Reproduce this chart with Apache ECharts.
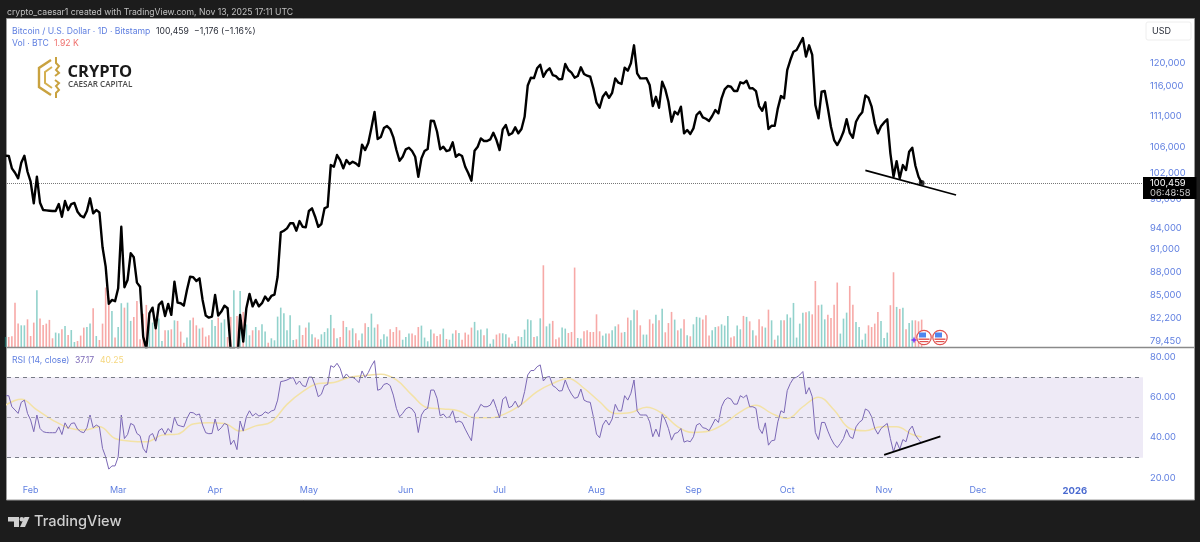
<!DOCTYPE html>
<html>
<head>
<meta charset="utf-8">
<title>BTC/USD</title>
<style>
  html, body { margin: 0; padding: 0; background: #1c1c1c; }
  #chart { width: 1200px; height: 542px; }
</style>
<script src="https://cdn.jsdelivr.net/npm/echarts@6/dist/echarts.min.js"></script>
</head>
<body>
<div id="chart"></div>
<script>
// first bar of every daily list below is 2025-01-24, last is 2025-11-13
var startDay = Date.UTC(2025, 0, 24)
var dayMs = 86400000

var closes = [
  104610,104590,102670,102000,101160,103530,104610,102150,100650,97470,101400,97560,96500,96450,96400,96360,96360,97370,95550,97800,
  96500,97370,97520,96260,95690,95460,96360,98200,96030,96500,96170,91310,88720,83950,84440,84280,85910,94130,86040,86980,
  90500,89960,86640,86120,79960,78500,82790,83480,80960,83820,84230,82450,83950,82590,86760,84110,84030,83730,85700,87400,
  87350,86850,87200,84440,82500,82250,82370,85070,82500,82990,83730,83410,78300,78600,76300,82590,79370,83410,85200,83640,
  84440,83640,84030,84860,84350,84940,85110,87400,93360,93580,93910,94620,94620,93580,94940,94130,94050,96360,96740,95550,
  94130,94520,96740,96970,103170,102910,104720,103940,102670,103940,103330,103680,103430,103020,106340,105500,106600,109000,111630,107230,
  107550,109000,109330,108840,107550,105500,103830,104450,105610,105860,105340,104450,101400,104200,105340,105650,110190,110150,108400,105610,
  106020,105340,105500,106710,104450,104830,104560,102910,101910,100800,105390,106020,107340,106920,106920,107180,108240,107070,105500,108790,
  109490,107870,108150,109110,108150,108840,110840,116100,117460,117400,119110,119750,117630,118630,119110,117930,117750,117180,117240,119880,
  118810,118340,117460,117750,119300,118110,117810,117630,115620,113180,112340,114180,114940,114010,114860,117350,116590,116370,119220,118690,
  120000,123250,118230,117350,117350,117360,116200,112620,114180,112340,116770,115450,113350,110030,111680,111240,112510,108150,108680,108040,
  108950,111130,111680,110750,110520,110150,110970,111960,111410,113920,115450,116020,115900,115160,115160,116660,116480,116940,115620,115630,
  115160,112620,111840,113250,108840,109380,109350,112240,114300,113920,118810,120590,122090,122400,123500,124600,121200,123250,121500,112790,
  110590,115040,115160,112240,109160,107070,106280,107180,108400,110430,108240,107440,110030,110970,111590,114420,114010,112510,109770,108150,
  109280,109920,110430,104980,101400,103780,101160,103170,102410,105230,105860,103070,101400,100459
]

// thousands of BTC
var volumes = [
  0.70,0.70,0.75,3.11,1.64,1.52,1.52,1.94,0.77,1.71,3.98,1.99,1.54,1.64,1.90,0.61,1.01,0.96,1.24,1.47,
  0.84,1.19,0.35,0.42,0.80,1.36,1.40,1.64,2.71,0.77,0.49,1.64,4.17,3.46,2.53,0.66,1.40,3.07,2.76,3.11,
  1.83,2.11,3.23,0.54,2.34,2.95,2.41,1.71,1.40,1.99,0.42,1.17,1.17,1.24,1.87,1.83,1.08,0.30,0.66,1.87,
  2.06,1.52,1.29,1.36,0.73,0.82,1.90,1.47,2.06,1.71,1.94,0.70,2.11,3.98,2.18,3.93,2.46,1.59,0.82,1.17,
  1.40,1.17,1.59,1.08,0.30,0.61,0.47,2.13,2.76,2.36,1.17,2.22,0.49,0.54,1.52,0.84,1.36,1.71,0.89,0.66,
  0.54,0.89,1.05,1.31,2.25,1.31,0.61,0.70,1.83,1.40,1.17,1.31,0.96,0.47,0.94,1.66,1.40,2.34,1.36,1.59,
  0.54,0.89,0.73,1.24,1.05,1.40,1.17,0.51,0.70,0.94,0.94,0.82,1.40,1.50,0.66,0.40,1.22,0.94,0.77,0.89,
  1.29,0.56,0.51,0.94,1.17,0.98,0.51,1.01,0.87,1.36,1.76,1.17,1.22,0.82,1.29,0.23,0.54,0.87,0.96,0.96,
  0.89,0.66,0.23,0.42,0.75,0.70,1.22,1.94,1.87,0.70,0.75,2.01,5.73,1.45,1.64,1.83,0.54,0.66,1.36,1.29,
  0.98,1.05,5.57,0.63,0.59,1.10,1.17,1.05,1.05,2.29,1.10,0.80,0.94,0.94,1.17,1.45,1.59,1.01,1.05,2.06,
  1.87,2.62,2.57,1.52,0.87,0.87,1.94,1.64,2.27,1.87,2.69,1.03,1.68,2.46,1.92,1.17,1.29,1.94,0.82,0.75,
  1.59,2.11,2.06,1.92,2.22,0.80,1.17,1.40,1.45,1.59,1.50,2.18,0.66,0.75,1.50,1.24,2.18,2.11,1.80,1.17,
  0.80,1.94,1.45,1.36,2.62,1.87,0.51,0.80,1.87,1.87,2.29,2.06,3.09,0.66,1.64,2.41,2.43,2.50,2.29,4.63,
  2.93,2.97,1.94,2.27,2.04,2.97,4.52,0.94,1.99,2.41,4.28,2.97,1.76,1.40,0.51,0.94,1.52,1.40,1.64,2.46,
  1.83,0.63,1.01,2.93,5.24,2.81,2.67,2.76,1.24,1.68,1.87,1.87,1.80,1.92
]

var rsiValues = [
  60.8,60.8,55.3,53.7,52,57.5,58.6,52,48.7,42.9,51.2,44.5,42.9,42.5,42.4,42.4,42.4,45.3,41.5,47.3,
  44.5,47,47.3,44.2,42.9,42.4,44.9,51.2,44.9,46.2,45.3,34.6,30.4,24.3,25.9,25.9,30.4,51.2,39.5,41.5,
  47,46.2,42,40.9,34.6,32.4,40.9,42,38.2,43.4,44.5,41.5,44.5,42.5,50,46.2,45.7,45.3,49.5,52.5,
  52.3,51.2,51.7,46.2,42.4,41.9,42,49.2,43.4,44.9,47,46.2,36.5,38.7,34,48.2,43.2,50.3,53.3,50.7,
  52,50.7,51.2,52.8,52,53.2,53.7,58.6,67.8,68.1,68.6,69.4,69.8,66.4,68.1,65.8,65.3,70,70,65.8,
  60.3,61.5,65.8,66.4,75.7,74.9,76.9,74.4,69.4,71.6,69.8,70,68.9,67.3,73.1,69.8,72.3,75.6,78.2,63.5,
  64.1,66.4,66.9,65.8,61.1,54.5,50.3,52,54.2,55.1,54.2,52,42.5,51.2,53.7,54.5,63.6,63.6,59.5,50.8,
  51.7,49.8,50.3,53.3,47.5,48.2,47.5,44.2,41.2,38.4,51.7,53.3,56.5,55.3,55.3,56.1,59,54.5,49.8,59,
  60.3,54.8,55.6,58.1,55,56.6,62.8,71.1,73.3,73.3,75.2,76.1,68.1,70,70.3,65.8,64.8,63.1,63.3,68.6,
  64.5,61.6,59.5,60,64.1,58.6,57.8,57.5,50.3,41.7,39.9,46.2,48.7,46.2,49.2,56.5,53.3,53.2,60.8,58.6,
  62,68.6,53.3,51.2,51.2,51.2,47.8,40.4,44.2,40.4,51.5,48.7,44.5,38.7,42,42.5,44.5,37.7,38.4,37.9,
  40.4,46.2,47,44.9,44.5,43.4,46.2,49.2,47.5,55.3,58.6,59.8,59.1,56.6,56.6,60.8,59.8,61.1,55.3,55.3,
  54.5,44.5,42,47.3,36.2,38.4,38.7,47.8,53.3,52.3,63.3,66.9,69.4,70,71.1,72.8,61.6,64.8,60.3,42.5,
  39,47.5,47.5,43.2,39.5,36.7,35,37,39.5,44,40.4,39.5,45.3,47.5,48.7,54.2,53.3,50.3,44.5,41.7,
  44.5,45.8,47,39.5,32.9,37.9,34.2,39,37.9,43.7,45.7,41.2,39,37.17
]

// RSI average read every fifth day, the last one on the final day
var rsiAvgDays = [
  0,5,10,15,20,25,30,35,40,45,50,55,60,65,70,75,80,85,90,95,100,105,110,115,120,125,130,135,140,145,
  150,155,160,165,170,175,180,185,190,195,200,205,210,215,220,225,230,235,240,245,250,255,260,265,270,275,280,285,290,293
]
var rsiAvgValues = [
  56.1,59,53.7,48.7,44.9,43.7,45.3,39.5,38.2,37.9,41.2,41.7,46.7,47.3,47,43.2,45.8,47.8,56.5,62.8,66.9,67.4,70,70.8,71.4,68.6,61.1,54.8,54.2,53.2,
  49.8,49.8,52,56.5,62.8,66.9,69.4,64.5,57.8,52,52.5,55,52,45.3,42.5,43.2,47,52.8,56.1,52,49.5,55.3,60,53.7,44.5,43.4,45.3,45.3,41.5,40.25
]

var priceTicks = [120000,116000,111000,106000,102000,98000,94000,91000,88000,85000,82200,79450]
var rsiTicks = [20,40,60,80]
var monthTicks = ['2025-02-01','2025-03-01','2025-04-01','2025-05-01','2025-06-01','2025-07-01','2025-08-01','2025-09-01','2025-10-01','2025-11-01','2025-12-01','2026-01-01']
var monthLabels = ['Feb','Mar','Apr','May','Jun','Jul','Aug','Sep','Oct','Nov','Dec','2026']

// hand drawn trend lines
var priceTrendDays = ['2025-10-26','2025-11-24']
var priceTrendValues = [102360,98680]
var rsiTrendDays = ['2025-11-01','2025-11-19']
var rsiTrendValues = [31.4,40.6]

var lastClose = closes[closes.length - 1]
var blue = '#5f7fe0'
var font = 'Inter'

function dayTime(i) {
  return startDay + i * dayMs
}

function parseDay(d) {
  return new Date(d + 'T00:00:00Z').getTime()
}

var priceData = closes.map(function (v, i) { return [dayTime(i), v] })
var rsiData = rsiValues.map(function (v, i) { return [dayTime(i), v] })
var rsiAvgData = rsiAvgValues.map(function (v, i) { return [dayTime(rsiAvgDays[i]), v] })
var volumeData = volumes.map(function (v, i) {
  var up = i === 0 || closes[i] >= closes[i - 1]
  return { value: [dayTime(i), v], itemStyle: { color: up ? 'rgba(38,166,154,0.5)' : 'rgba(239,83,80,0.5)' } }
})
var monthValues = monthTicks.map(parseDay)

// value axis over timestamps, the month ticks are not evenly spaced anyway
function timeAxis(gridIndex, showLabels) {
  return {
    type: 'value',
    gridIndex: gridIndex,
    min: dayTime(0.44),
    max: dayTime(363.8),
    scale: true,
    axisLine: { show: false },
    axisTick: { show: false },
    splitLine: { show: false },
    axisLabel: {
      show: showLabels,
      customValues: monthValues,
      hideOverlap: false,
      margin: 5,
      color: blue,
      fontFamily: font,
      fontSize: 9,
      formatter: function (value) {
        var label = monthLabels[monthValues.indexOf(value)]
        return label === '2026' ? '{b|2026}' : label
      },
      rich: { b: { color: '#4a6ad0', fontFamily: font, fontSize: 9.5, fontWeight: 'bold' } }
    }
  }
}

function sideAxis(gridIndex, type, min, max, ticks, formatter) {
  return {
    type: type,
    gridIndex: gridIndex,
    position: 'right',
    min: min,
    max: max,
    axisLine: { show: false },
    axisTick: { show: false },
    splitLine: { show: false },
    minorTick: { show: false },
    minorSplitLine: { show: false },
    axisLabel: {
      customValues: ticks,
      hideOverlap: false,
      showMinLabel: true,
      showMaxLabel: true,
      margin: 7,
      color: blue,
      fontFamily: font,
      fontSize: 9.4,
      formatter: formatter
    }
  }
}

function headerText(x, y, text, color, size) {
  return { type: 'text', z: 50, style: { x: x, y: y, text: text, fill: color, font: size + 'px Inter', textVerticalAlign: 'middle' } }
}

function flagCircle(cx, cy) {
  return {
    type: 'group',
    z: 50,
    children: [
      { type: 'circle', z: 50, shape: { cx: cx, cy: cy, r: 7.2 }, style: { fill: '#fff', stroke: '#e0524f', lineWidth: 1.2 } },
      { type: 'rect', z: 51, shape: { x: cx - 5, y: cy - 5, width: 7, height: 5 }, style: { fill: '#4f86ee' } },
      { type: 'rect', z: 51, shape: { x: cx - 5.5, y: cy + 1, width: 11, height: 1.4 }, style: { fill: '#e0524f' } },
      { type: 'rect', z: 51, shape: { x: cx - 4.5, y: cy + 3.5, width: 9, height: 1.2 }, style: { fill: '#e0524f' } }
    ]
  }
}

var option = {
  animation: false,
  backgroundColor: '#1c1c1c',
  textStyle: { fontFamily: font },
  grid: [
    { left: 7, right: 57, top: 19, height: 328 },
    { left: 7, right: 57, top: 348, height: 133 }
  ],
  xAxis: [timeAxis(0, false), timeAxis(1, true)],
  yAxis: [
    sideAxis(0, 'log', 78740, 128165, priceTicks, function (v) { return Math.round(v).toLocaleString('en-US') }),
    { type: 'value', gridIndex: 0, min: 0, max: 23, show: false },
    sideAxis(1, 'value', 18.4, 84.5, rsiTicks, function (v) { return v.toFixed(2) })
  ],
  series: [
    {
      name: 'Vol',
      type: 'bar',
      xAxisIndex: 0,
      yAxisIndex: 1,
      barWidth: 1.6,
      data: volumeData
    },
    {
      name: 'Close',
      type: 'line',
      xAxisIndex: 0,
      yAxisIndex: 0,
      showSymbol: false,
      z: 5,
      lineStyle: { color: '#000', width: 2.4, join: 'round' },
      data: priceData,
      markLine: {
        silent: true,
        symbol: 'none',
        animation: false,
        lineStyle: { color: '#777', type: 'dotted', width: 1 },
        label: {
          show: true,
          position: 'end',
          distance: 0,
          offset: [0, 5],
          backgroundColor: '#000',
          padding: [1, 6, 1, 7],
          lineHeight: 10,
          formatter: '{p|100,459}\n{t|06:48:58}',
          rich: {
            p: { color: '#fff', fontFamily: font, fontSize: 9.4, lineHeight: 10 },
            t: { color: '#c8c8c8', fontFamily: font, fontSize: 9.4, lineHeight: 10 }
          }
        },
        data: [{ yAxis: lastClose }]
      }
    },
    {
      name: 'Last',
      type: 'scatter',
      xAxisIndex: 0,
      yAxisIndex: 0,
      symbolSize: 6,
      z: 6,
      itemStyle: { color: '#000' },
      data: [priceData[priceData.length - 1]]
    },
    {
      name: 'Price trend',
      type: 'line',
      xAxisIndex: 0,
      yAxisIndex: 0,
      showSymbol: false,
      z: 6,
      lineStyle: { color: '#000', width: 1.6 },
      data: priceTrendDays.map(function (d, i) { return [parseDay(d), priceTrendValues[i]] })
    },
    {
      name: 'RSI',
      type: 'line',
      xAxisIndex: 1,
      yAxisIndex: 2,
      showSymbol: false,
      z: 4,
      lineStyle: { color: '#7b68b5', width: 1 },
      data: rsiData,
      markArea: {
        silent: true,
        itemStyle: { color: '#eeeaf6' },
        data: [[{ yAxis: 70 }, { yAxis: 30 }]]
      },
      markLine: {
        silent: true,
        symbol: 'none',
        animation: false,
        label: { show: false },
        lineStyle: { color: '#787b86', type: [4, 4], width: 1 },
        data: [
          { yAxis: 70 },
          { yAxis: 50, lineStyle: { color: '#a8a6b4', type: [4, 4], width: 1 } },
          { yAxis: 30 }
        ]
      }
    },
    {
      name: 'RSI average',
      type: 'line',
      xAxisIndex: 1,
      yAxisIndex: 2,
      showSymbol: false,
      smooth: 0.4,
      z: 3,
      lineStyle: { color: '#f3e2a6', width: 1.5 },
      data: rsiAvgData
    },
    {
      name: 'RSI trend',
      type: 'line',
      xAxisIndex: 1,
      yAxisIndex: 2,
      showSymbol: false,
      z: 6,
      lineStyle: { color: '#000', width: 1.8 },
      data: rsiTrendDays.map(function (d, i) { return [parseDay(d), rsiTrendValues[i]] })
    }
  ],
  graphic: { elements: [
    // white panel behind both panes
    { type: 'rect', z: -10, shape: { x: 6.5, y: 18.5, width: 1188, height: 481.5 }, style: { fill: '#fff', stroke: '#9a9a9a', lineWidth: 1 } },

    // top strip and legends
    headerText(7, 12, 'crypto_caesar1 created with TradingView.com, Nov 13, 2025 17:11 UTC', '#c0c0c0', 8.65),
    headerText(12, 31, 'Bitcoin / U.S. Dollar · 1D · Bitstamp', blue, 8.65),
    headerText(156, 31, '100,459', '#2a2e39', 8.65),
    headerText(194, 31, '−1,176 (−1.16%)', '#2a2e39', 8.65),
    headerText(12, 43.5, 'Vol · BTC', blue, 8.65),
    headerText(54, 43.5, '1.92 K', '#ef6f6c', 8.65),
    headerText(12, 360, 'RSI (14, close)', blue, 8.65),
    headerText(75, 360, '37.17', '#7e6bb8', 8.65),
    headerText(100, 360, '40.25', '#f5d77f', 8.65),

    // pane separator and the clipped bottom of the RSI scale
    { type: 'line', z: 50, shape: { x1: 7, y1: 347.5, x2: 1194, y2: 347.5 }, style: { stroke: '#8a8a8a', lineWidth: 1.5 } },
    { type: 'rect', z: 50, shape: { x: 1145, y: 481.5, width: 48, height: 6 }, style: { fill: '#fff' } },

    // currency button
    { type: 'rect', z: 50, shape: { x: 1146, y: 22, width: 45, height: 18, r: 2 }, style: { fill: '#fff', stroke: '#eeeeee', lineWidth: 1 } },
    headerText(1152, 31, 'USD', '#2a2e39', 9),

    // watermark logo
    { type: 'polyline', z: 50, shape: { points: [[51, 60], [39, 68], [39, 87], [51, 95]] }, style: { fill: 'none', stroke: '#c9a23f', lineWidth: 2.4 } },
    { type: 'polyline', z: 50, shape: { points: [[52, 67], [45, 72], [45, 83], [52, 88]] }, style: { fill: 'none', stroke: '#d4b050', lineWidth: 2 } },
    { type: 'polyline', z: 50, shape: { points: [[56, 57], [56, 63], [59, 66], [56, 70], [59, 73], [55, 76]] }, style: { fill: 'none', stroke: '#c9a23f', lineWidth: 2 } },
    { type: 'polyline', z: 50, shape: { points: [[55, 80], [59, 83], [56, 86], [59, 90], [56, 93], [56, 98]] }, style: { fill: 'none', stroke: '#c9a23f', lineWidth: 2 } },
    { type: 'text', z: 50, style: { x: 67.5, y: 72.3, text: 'CRYPTO', fill: '#1a1a1a', font: 'bold 16.5px "Open Sans"', textVerticalAlign: 'middle' } },
    { type: 'text', z: 50, style: { x: 68, y: 84.5, text: 'CAESAR CAPITAL', fill: '#4a4a4a', font: '600 8.1px "Open Sans"', textVerticalAlign: 'middle' } },

    // event markers next to the last bars
    { type: 'polygon', z: 50, shape: { points: [[914, 336.5], [915, 339], [917.5, 340], [915, 341], [914, 343.5], [913, 341], [910.5, 340], [913, 339]] }, style: { fill: '#7b3ff2' } },
    flagCircle(924, 337.5),
    flagCircle(940, 337.5),

    // footer logo
    { type: 'polygon', z: 50, shape: { points: [[8, 517], [19, 517], [19, 527], [14, 527], [14, 521.5], [8, 521.5]] }, style: { fill: '#cfcfcf' } },
    { type: 'circle', z: 50, shape: { cx: 21.8, cy: 519.3, r: 2.3 }, style: { fill: '#cfcfcf' } },
    { type: 'polygon', z: 50, shape: { points: [[24.5, 517], [29.5, 517], [25, 527], [20, 527]] }, style: { fill: '#cfcfcf' } },
    { type: 'text', z: 50, style: { x: 34, y: 522, text: 'TradingView', fill: '#cfcfcf', font: '500 14.6px Inter', textVerticalAlign: 'middle' } }
  ] }
}

var myChart = echarts.init(document.getElementById('chart'))
myChart.setOption(option)
</script>
</body>
</html>
